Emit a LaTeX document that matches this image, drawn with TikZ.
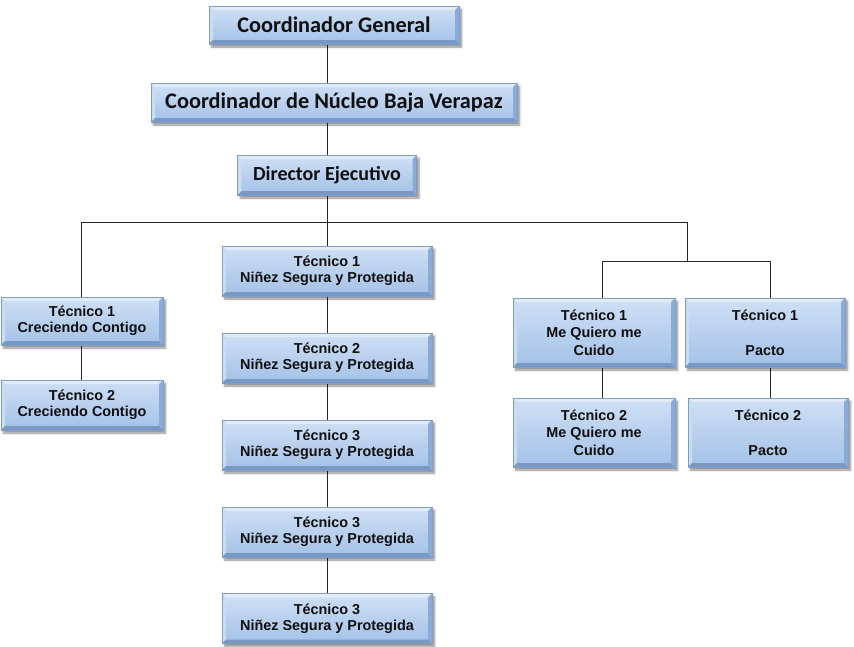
\documentclass[tikz,border=0pt]{standalone}
\usepackage{fontspec}
\setmainfont{Liberation Sans}
\newfontfamily\calfont{Carlito}
\usetikzlibrary{shadows.blur}
\pgfdeclarelayer{links}
\pgfsetlayers{links,main}
\definecolor{boxtop}{HTML}{CFE0F5}
\definecolor{boxbot}{HTML}{A3C1E7}
\definecolor{boxedge}{HTML}{7F9DC6}
\definecolor{bevtop}{HTML}{E2ECF9}
\definecolor{bevleft}{HTML}{CADCF2}
\definecolor{bevright}{HTML}{8BABD7}
\definecolor{bevbot}{HTML}{7898C6}
\definecolor{txt}{HTML}{0F0F0F}
\newcommand\bevelpp{%
  \fill[bevtop] (path picture bounding box.north west) -- (path picture bounding box.north east)
     -- ([xshift=-4pt,yshift=-4pt]path picture bounding box.north east) -- ([xshift=4pt,yshift=-4pt]path picture bounding box.north west) -- cycle;
  \fill[bevleft] (path picture bounding box.north west) -- (path picture bounding box.south west)
     -- ([xshift=4pt,yshift=4pt]path picture bounding box.south west) -- ([xshift=4pt,yshift=-4pt]path picture bounding box.north west) -- cycle;
  \fill[bevright] (path picture bounding box.north east) -- (path picture bounding box.south east)
     -- ([xshift=-4pt,yshift=4pt]path picture bounding box.south east) -- ([xshift=-4pt,yshift=-4pt]path picture bounding box.north east) -- cycle;
  \fill[bevbot] (path picture bounding box.south west) -- (path picture bounding box.south east)
     -- ([xshift=-4pt,yshift=4pt]path picture bounding box.south east) -- ([xshift=4pt,yshift=4pt]path picture bounding box.south west) -- cycle;
}
\tikzset{
  orgbox/.style={rectangle, draw=boxedge, line width=0.6pt, top color=boxtop, bottom color=boxbot,
    blur shadow={shadow xshift=2.5pt, shadow yshift=-3pt, shadow blur steps=6, shadow opacity=45},
    inner sep=0pt, align=center, text=txt, path picture={\bevelpp}},
  headbox/.style={orgbox, font=\calfont\bfseries\fontsize{22.3}{25}\selectfont},
  dirbox/.style={orgbox, font=\calfont\bfseries\fontsize{20}{23}\selectfont},
  tecbox/.style={orgbox, font=\bfseries\fontsize{14.4}{16}\selectfont},
  tecboxb/.style={orgbox, font=\bfseries\fontsize{14.4}{17.5}\selectfont},
  link/.style={draw=black!85, line width=0.8pt},
}
\begin{document}
\begin{tikzpicture}[x=1pt,y=-1pt]
\useasboundingbox (0,0) rectangle (854,646);
% top
\node[headbox, minimum width=250pt, minimum height=38pt] (cg) at (334,25) {Coordinador General};
\node[headbox, minimum width=366pt, minimum height=39pt] (nuc) at (334,102.5) {Coordinador de Núcleo Baja Verapaz};
\node[dirbox, minimum width=179pt, minimum height=40pt] (dir) at (327,175) {Director Ejecutivo};
% left column
\node[tecbox, minimum width=162pt, minimum height=48pt] (l1) at (82,321) {Técnico 1\\Creciendo Contigo};
\node[tecbox, minimum width=162pt, minimum height=50pt] (l2) at (82,405) {Técnico 2\\Creciendo Contigo};
% middle column
\node[tecbox, minimum width=210pt, minimum height=50pt] (m1) at (327,271) {Técnico 1\\Niñez Segura y Protegida};
\node[tecbox, minimum width=210pt, minimum height=50pt] (m2) at (327,358) {Técnico 2\\Niñez Segura y Protegida};
\node[tecbox, minimum width=210pt, minimum height=50pt] (m3) at (327,445) {Técnico 3\\Niñez Segura y Protegida};
\node[tecbox, minimum width=210pt, minimum height=50pt] (m4) at (327,532) {Técnico 3\\Niñez Segura y Protegida};
\node[tecbox, minimum width=210pt, minimum height=50pt] (m5) at (327,618.5) {Técnico 3\\Niñez Segura y Protegida};
% right
\node[tecboxb, minimum width=162pt, minimum height=69pt] (q1) at (594,332.5) {Técnico 1\\Me Quiero me\\Cuido};
\node[tecboxb, minimum width=162pt, minimum height=69pt] (q2) at (594,432.5) {Técnico 2\\Me Quiero me\\Cuido};
\node[tecboxb, minimum width=160pt, minimum height=69pt] (p1) at (765,332.5) {Técnico 1\\\mbox{}\\Pacto};
\node[tecboxb, minimum width=160pt, minimum height=69pt] (p2) at (768,432.5) {Técnico 2\\\mbox{}\\Pacto};
% bus coordinates
\coordinate (bus) at (327,222);
\coordinate (rbus) at (687,261);
% connectors
\begin{pgfonlayer}{links}
\path[link] (cg.south -| dir) -- (nuc.north -| dir);
\path[link] (nuc.south -| dir) -- (dir.north);
\path[link] (dir.south) -- (bus);
\path[link] ([xshift=-1pt]l1.north |- bus) -- (bus -| rbus);
\path[link] ([xshift=-1pt]l1.north |- bus) -- ([xshift=-1pt]l1.north);
\path[link] ([xshift=-1pt]l1.south) -- ([xshift=-1pt]l2.north);
\path[link] (bus) -- (m1.north);
\path[link] (m1.south) -- (m2.north);
\path[link] (m2.south) -- (m3.north);
\path[link] (m3.south) -- (m4.north);
\path[link] (m4.south) -- (m5.north);
\path[link] (bus -| rbus) -- (rbus);
\path[link] ([xshift=8pt]q1.north |- rbus) -- ([xshift=5pt]p1.north |- rbus);
\path[link] ([xshift=8pt]q1.north |- rbus) -- ([xshift=8pt]q1.north);
\path[link] ([xshift=5pt]p1.north |- rbus) -- ([xshift=5pt]p1.north);
\path[link] ([xshift=8pt]q1.south) -- ([xshift=8pt]q2.north);
\path[link] ([xshift=5pt]p1.south) -- ([xshift=5pt]p1.south |- p2.north);
\end{pgfonlayer}
\end{tikzpicture}
\end{document}
